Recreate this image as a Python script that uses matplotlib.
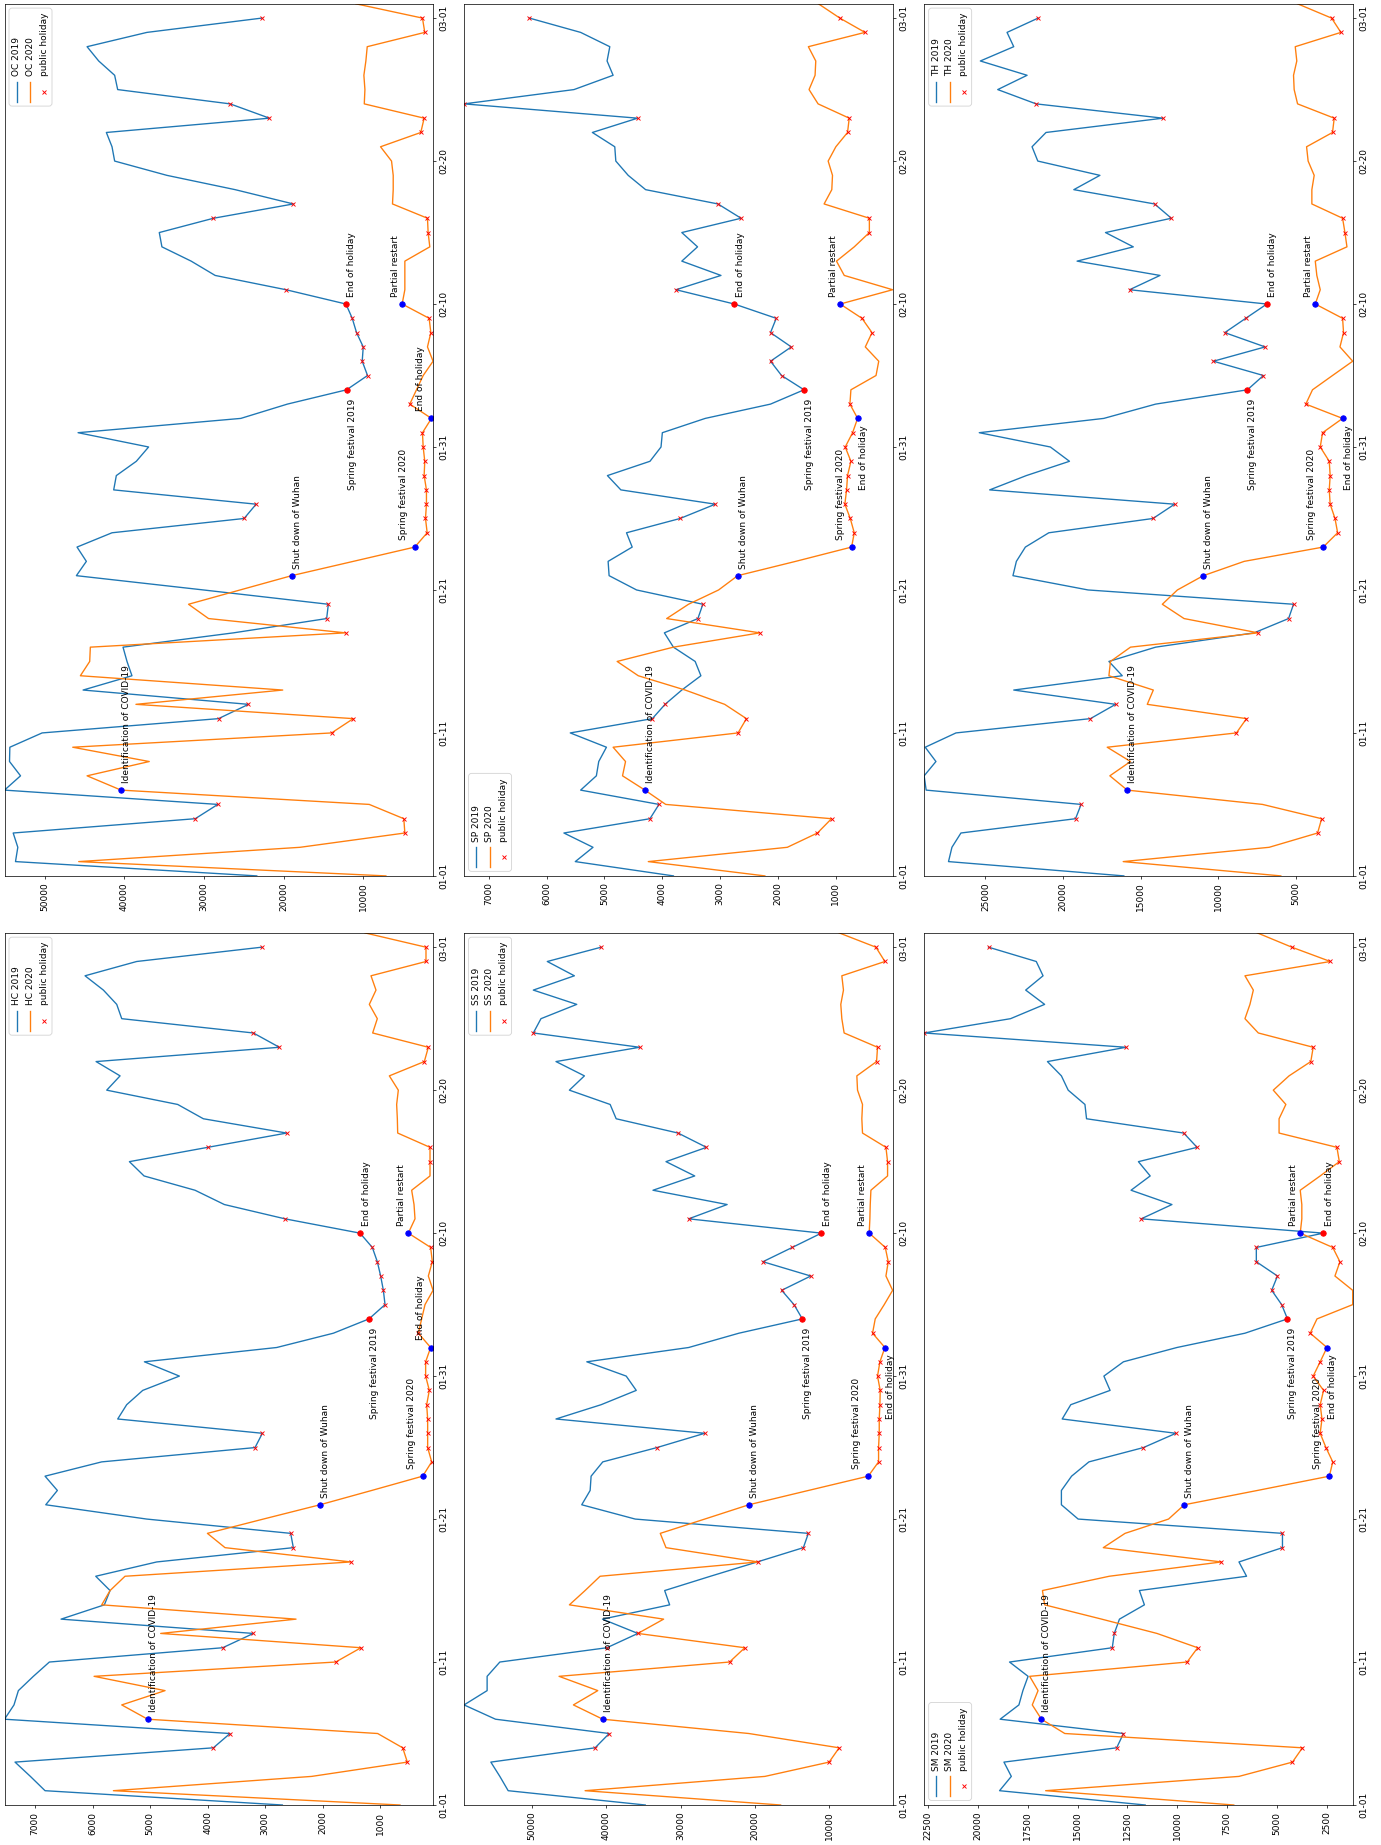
import matplotlib
matplotlib.use("Agg")
import matplotlib.pyplot as plt
from matplotlib.lines import Line2D
from matplotlib.patches import FancyBboxPatch
from matplotlib.ticker import MaxNLocator
from matplotlib.transforms import ScaledTranslation

DPI = 65

# Day index 0 = 01-01, values read per day (2019 has 61 days, 2020 has 62)
date_ticks = [0, 10, 20, 30, 40, 50, 60]
date_labels = ["01-01", "01-11", "01-21", "01-31", "02-10", "02-20", "03-01"]

holidays_2019 = [4, 5, 11, 12, 18, 19, 25, 26, 35, 36, 37, 38, 39, 41, 46, 47, 53, 54, 60]
holidays_2020 = [3, 4, 10, 11, 17, 24, 25, 26, 27, 28, 29, 30, 31, 33, 38, 39, 45, 46, 52, 53, 59, 60]

events_2019 = [(34, "Spring festival 2019"), (40, "End of holiday")]
events_2020 = [(6, "Identification of COVID-19"), (21, "Shut down of Wuhan"),
               (23, "Spring festival 2020"), (32, "End of holiday"), (40, "Partial restart")]

hc_2019 = [2700, 6825, 7080, 7347, 3899, 3610, 7530, 7365, 7289, 7028,
           6750, 3737, 3204, 6547, 5794, 5695, 5944, 4884, 2509, 2555,
           5058, 6813, 6611, 6825, 5840, 3175, 3047, 5562, 5406, 5127,
           4490, 5098, 2798, 1813, 1194, 915, 944, 991, 1049, 1136,
           1350, 2654, 3708, 4218, 5104, 5359, 3998, 2625, 4073, 4519,
           5753, 5521, 5938, 2752, 3204, 5492, 5579, 5811, 6130, 5232,
           3059]
hc_2020 = [655, 5637, 2190, 527, 608, 1043, 5041, 5492, 4739, 5973,
           1773, 1333, 4815, 2462, 5840, 5695, 5435, 1506, 3696, 4003,
           3030, 2045, 1147, 261, 104, 174, 174, 174, 191, 145,
           209, 209, 122, 336, 278, 220, 80, 162, 93, 122,
           510, 394, 411, 452, 133, 133, 133, 695, 701, 713,
           684, 840, 232, 162, 1130, 1049, 1188, 1072, 1159, 203,
           203, 1263]

ss_2019 = [34740, 53170, 54290, 55500, 41480, 39590, 54870, 59100, 56000, 56000,
           54290, 39900, 35730, 40490, 31460, 32130, 25975, 19680, 13480, 12810,
           36090, 43280, 42150, 42020, 40450, 33170, 26740, 46740, 40670, 35950,
           37300, 42600, 28900, 22150, 13620, 14740, 16400, 12490, 18920, 14970,
           11060, 28900, 23730, 33700, 28090, 31950, 26510, 30330, 38650, 39460,
           44940, 42920, 46740, 35500, 49790, 48760, 43950, 49790, 44270, 47910,
           40670]
ss_2020 = [16540, 42830, 18650, 10020, 8670, 20810, 40450, 44400, 41120, 46330,
           23410, 21350, 35730, 32270, 44940, 42830, 40810, 19550, 31950, 32720,
           26740, 20810, 12810, 4760, 3370, 3370, 3280, 3280, 3190, 3150,
           3510, 3190, 2520, 4180, 3820, 2610, 1480, 2380, 2070, 2470,
           4630, 4540, 4490, 4400, 2160, 2160, 2380, 5530, 5620, 5530,
           6200, 6290, 3640, 3510, 8000, 8310, 8450, 8090, 8310, 2520,
           3730, 8670]

sm_2019 = [11610, 18910, 18320, 18690, 13040, 12700, 18880, 17940, 17740, 17480,
           18410, 13260, 13160, 12900, 11650, 11900, 6530, 6910, 4730, 4730,
           14970, 15810, 15810, 15300, 14430, 11700, 10070, 15770, 15340, 13370,
           13680, 12700, 10020, 6610, 4480, 4770, 5270, 4980, 6040, 6040,
           2680, 11810, 10270, 12320, 11360, 11950, 9010, 9680, 14550, 14630,
           15470, 15810, 16510, 12570, 22690, 18360, 16650, 17600, 16730, 17070,
           19460]
sm_2020 = [7170, 16600, 6910, 4230, 3730, 15640, 16810, 17270, 16980, 17400,
           9510, 8980, 11020, 13790, 16650, 16760, 13410, 7790, 13710, 12620,
           10440, 9650, 5990, 2380, 2210, 2550, 2840, 2750, 2840, 2670,
           3190, 2840, 2500, 3340, 3000, 1210, 1210, 2100, 1850, 2210,
           3840, 3760, 3760, 3840, 2840, 1880, 2000, 4900, 4900, 4560,
           5190, 4400, 3310, 3190, 5940, 6610, 6360, 6190, 6610, 2330,
           4260, 5990]

oc_2019 = [23380, 53650, 53360, 53940, 31100, 28270, 55030, 53020, 54400, 54360,
           50310, 28180, 24420, 45170, 39040, 39660, 40160, 26300, 14610, 14400,
           30060, 46010, 44760, 45930, 41540, 24970, 23460, 41330, 41000, 38490,
           36950, 45800, 25380, 19540, 12110, 9480, 10150, 10020, 10860, 11400,
           12190, 19710, 28600, 31610, 35280, 35610, 28810, 18790, 26090, 34650,
           41210, 41540, 42250, 21790, 26720, 40830, 41210, 43210, 44670, 37160,
           22750]
oc_2020 = [7180, 45720, 17950, 4800, 4930, 9270, 40410, 44670, 36870, 46470,
           13990, 11270, 38540, 20120, 45510, 44340, 44260, 12230, 29430, 31940,
           25470, 19000, 11270, 3550, 2000, 2210, 2090, 2090, 2380, 2300,
           2500, 2590, 1460, 4180, 3340, 2500, 1260, 1960, 1540, 1750,
           5140, 4800, 4800, 4800, 1670, 1880, 1960, 6350, 6260, 6260,
           6470, 7850, 2800, 2380, 9890, 9810, 9940, 9690, 9520, 2300,
           2590, 10940]

sp_2019 = [3808, 5503, 5197, 5700, 4213, 4057, 5411, 5139, 5098, 4965,
           5590, 4172, 3952, 3663, 3333, 3432, 3808, 3964, 3385, 3299,
           4444, 4919, 4936, 4520, 4618, 3692, 3084, 4716, 4948, 4213,
           4022, 3999, 3258, 2130, 1551, 1939, 2130, 1771, 2130, 2031,
           2755, 3762, 2986, 3663, 3391, 3663, 2639, 3038, 4288, 4589,
           4803, 4821, 5208, 4427, 7425, 5526, 4850, 4954, 4907, 5411,
           6296]
sp_2020 = [2228, 4242, 1840, 1319, 1076, 3941, 4300, 4687, 4635, 4850,
           2691, 2546, 2922, 3605, 4415, 4780, 3808, 2315, 3924, 3547,
           3027, 2697, 1696, 729, 683, 752, 845, 816, 799, 741,
           839, 712, 625, 758, 741, 307, 260, 492, 376, 550,
           926, 20, 856, 990, 683, 422, 422, 1204, 1071, 1059,
           1134, 1001, 799, 770, 1308, 1464, 1360, 1348, 1476, 498,
           932, 1302]

th_2019 = [16090, 27380, 27160, 26580, 19200, 18840, 28820, 28950, 28190, 28880,
           26900, 18240, 16620, 23180, 16190, 17050, 14040, 7700, 5480, 5160,
           18390, 23230, 23010, 22430, 20920, 14210, 12820, 24730, 22370, 19590,
           20820, 25400, 17380, 14040, 8130, 7100, 10320, 6990, 9590, 8240,
           6880, 15720, 13760, 19100, 15480, 17270, 13030, 14110, 19310, 17630,
           21630, 22000, 21100, 13570, 21740, 24210, 22320, 25330, 23180, 23610,
           21610]
th_2020 = [5980, 16130, 6730, 3610, 3350, 7160, 15870, 16990, 15660, 17160,
           8840, 8190, 14580, 14190, 17050, 16950, 15660, 7440, 12210, 13610,
           12640, 10970, 8340, 3250, 2320, 2490, 2800, 2860, 2800, 2860,
           3440, 3290, 2000, 4370, 3940, 2650, 1350, 2170, 1940, 2000,
           3760, 3440, 3660, 3760, 1720, 1850, 2000, 3980, 3980, 3830,
           4220, 4320, 2650, 2540, 4900, 5120, 5160, 4950, 5050, 2110,
           2710, 4900]

# label placement (ha, va, dx, dy) in pixels around each event point
place_2019 = [("left", "top", 1, -9), ("left", "bottom", 1.5, 7.5)]
place_2020 = [("left", "bottom", 1, 7), ("left", "bottom", 1, 7), ("right", "bottom", -7, 7),
              ("left", "top", 1, -7), ("right", "bottom", -2, 7)]
place_eoh_after = ("right", "bottom", -6, 8)

# the page is turned: dates run bottom to top, values right to left
col_left = [4.5, 464, 924]
row_top = [4, 933]
ax_w, ax_h = 428.5, 872
W, H = 1381, 1845

panels = [
    # name, 2019, 2020, column, row, legend at top, end-of-holiday label after point
    ("OC", oc_2019, oc_2020, 0, 0, True, True),
    ("SP", sp_2019, sp_2020, 1, 0, False, False),
    ("TH", th_2019, th_2020, 2, 0, True, False),
    ("HC", hc_2019, hc_2020, 0, 1, True, True),
    ("SS", ss_2019, ss_2020, 1, 1, True, False),
    ("SM", sm_2019, sm_2020, 2, 1, False, False),
]


def draw_legend(ax, name, at_top):
    corner = (0, 1) if at_top else (0, 0)
    t = ScaledTranslation(corner[0], corner[1], ax.transAxes)
    w, h = 43, 98
    x0 = 4.5
    y0 = -4.3 - h if at_top else 4.5
    box = FancyBboxPatch((x0, y0), w, h, boxstyle="round,pad=0,rounding_size=3",
                         transform=t, facecolor="white", edgecolor="0.8",
                         alpha=0.8, lw=1.0, zorder=5)
    ax.add_artist(box)
    entries = [(name + " 2019", "C0", "-"), (name + " 2020", "C1", "-"), ("public holiday", "red", "x")]
    for i, (label, color, kind) in enumerate(entries):
        x = x0 + 7.5 + 13.8 * i
        if kind == "-":
            ax.add_artist(Line2D([x, x], [y0 + 4, y0 + 24], transform=t, color=color, lw=1.5, zorder=6))
        else:
            ax.add_artist(Line2D([x], [y0 + 14], transform=t, color=color, marker="x",
                                 ls="none", ms=4.5, zorder=6))
        ax.text(x, y0 + 30, label, transform=t, rotation=90, ha="center", va="bottom", zorder=6)


fig = plt.figure(figsize=((W + 0.2) / DPI, (H + 0.2) / DPI), dpi=DPI)

for name, v19, v20, col, row, legend_top, eoh_after in panels:
    rect = [col_left[col] / W, 1 - (row_top[row] + ax_h) / H, ax_w / W, ax_h / H]
    ax = fig.add_axes(rect)
    days19 = list(range(len(v19)))
    days20 = list(range(len(v20)))
    ax.plot(v19, days19, color="C0", lw=1.5)
    ax.plot(v20, days20, color="C1", lw=1.5)

    # event markers
    for d, _ in events_2019:
        ax.plot(v19[d], d, "o", color="red", ms=6)
    for d, _ in events_2020:
        ax.plot(v20[d], d, "o", color="blue", ms=6)

    # public holidays
    ax.plot([v19[d] for d in holidays_2019], holidays_2019, "x", color="red", ms=4.5, ls="none")
    ax.plot([v20[d] for d in holidays_2020], holidays_2020, "x", color="red", ms=4.5, ls="none")

    for (d, label), (ha, va, dx, dy) in zip(events_2019, place_2019):
        ax.annotate(label, xy=(v19[d], d), xytext=(dx, dy), textcoords="offset pixels",
                    rotation=90, ha=ha, va=va)
    for (d, label), place in zip(events_2020, place_2020):
        if label == "End of holiday" and eoh_after:
            place = place_eoh_after
        ha, va, dx, dy = place
        ax.annotate(label, xy=(v20[d], d), xytext=(dx, dy), textcoords="offset pixels",
                    rotation=90, ha=ha, va=va)

    ax.margins(0)
    ax.invert_xaxis()
    ax.xaxis.set_major_locator(MaxNLocator(9, steps=[1, 2, 2.5, 5, 10]))
    ax.set_yticks(date_ticks, labels=date_labels)
    ax.yaxis.tick_right()
    ax.tick_params(axis="x", labelrotation=90)
    ax.tick_params(axis="y", labelrotation=90)
    for lbl in ax.get_yticklabels():
        lbl.set_va("center")

    draw_legend(ax, name, legend_top)

fig.savefig("out.png", dpi=DPI)
